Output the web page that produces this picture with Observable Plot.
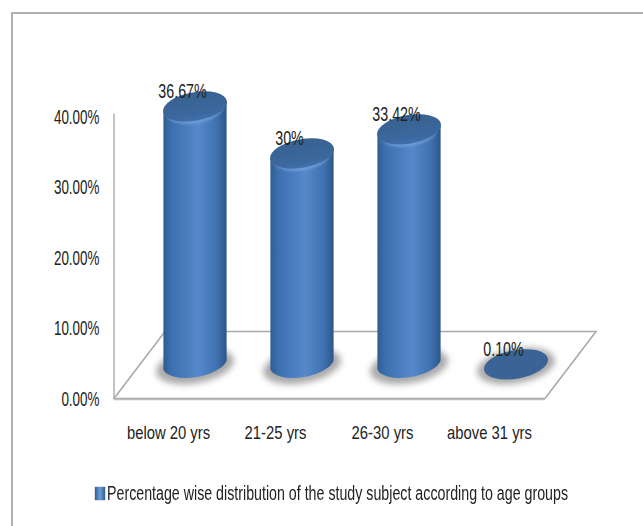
<!DOCTYPE html>
<html>
<head>
<meta charset="utf-8">
<script src="https://cdn.jsdelivr.net/npm/d3@7"></script>
<script src="https://cdn.jsdelivr.net/npm/@observablehq/plot@0.6"></script>
<style>
  html, body { margin: 0; padding: 0; background: #fff; overflow: hidden; }
  #page { position: relative; width: 643px; height: 526px; overflow: hidden; font-family: "Liberation Sans", sans-serif; }
  #edge { position: absolute; left: 11px; top: 12px; right: 0; bottom: 0; border-left: 2px solid #b0b0b0; border-top: 2px solid #b0b0b0; pointer-events: none; }
  #chart svg { display: block; }
  #legend { position: absolute; left: 0; top: 480px; width: 643px; height: 26px; font-size: 20px; line-height: 26px; color: #222; white-space: nowrap; }
  #legend .key { position: absolute; left: 95px; top: 7px; width: 10px; height: 13px; background: linear-gradient(90deg, #2f5f97, #6f9fd8 50%, #2f5f97); box-shadow: 0 0 1px #345; }
  #legend .label { position: absolute; left: 107px; top: 0; transform-origin: 0 50%; }
</style>
</head>
<body>
<div id="page">
  <div id="edge"></div>
  <div id="chart"></div>
  <div id="legend"><span class="key"></span><span class="label" id="legend-label"></span></div>
</div>
<script>
const ageGroups = ["below 20 yrs", "21-25 yrs", "26-30 yrs", "above 31 yrs"];
const shares = [36.67, 30, 33.42, 0.1];
const shareLabels = ["36.67%", "30%", "33.42%", "0.10%"];
const yTicks = [0, 10, 20, 30, 40];
const seriesName = "Percentage wise distribution of the study subject according to age groups";

const rows = ageGroups.map((group, i) => ({group, share: shares[i], label: shareLabels[i]}));

// Receding floor: the cylinders stand half way back along this depth.
const depthX = 51, depthY = 67;
const standX = depthX / 2, standY = -depthY / 2;
const capRx = 32.4, capRy = 14.3, tilt = -10, skew = 4.6;
const font = "'Liberation Sans', sans-serif";

// Shared gradients and the soft shadow filters.
function defs() {
  const svg = d3.create("svg:defs");
  const body = svg.append("linearGradient").attr("id", "cyl-body");
  [[0, "#2f5d93"], [0.12, "#3b6fae"], [0.55, "#5688cb"], [0.84, "#4072b1"], [1, "#2c5688"]]
    .forEach(([o, c]) => body.append("stop").attr("offset", o).attr("stop-color", c));
  const cap = svg.append("linearGradient").attr("id", "cyl-cap").attr("x1", 0).attr("x2", 0).attr("y1", 0).attr("y2", 1);
  [[0, "#38618f"], [0.8, "#3b689f"], [1, "#4272ad"]]
    .forEach(([o, c]) => cap.append("stop").attr("offset", o).attr("stop-color", c));
  const blur = svg.append("filter").attr("id", "soft").attr("x", "-30%").attr("y", "-60%").attr("width", "160%").attr("height", "220%");
  blur.append("feGaussianBlur").attr("stdDeviation", 3);
  const glow = svg.append("filter").attr("id", "rim").attr("x", "-10%").attr("y", "-20%").attr("width", "120%").attr("height", "140%");
  glow.append("feGaussianBlur").attr("stdDeviation", 1);
  return svg.node();
}

// The floor is a parallelogram running back from the zero line, with the axis rising from its corner.
function floor(index, {y}, values, {marginLeft, width, marginRight}) {
  const g = d3.create("svg:g");
  const left = marginLeft, right = width - marginRight, y0 = y(0);
  g.append("path")
    .attr("d", `M${left},${y0}L${left + depthX},${y0 - depthY}L${right + depthX},${y0 - depthY}L${right},${y0}Z`)
    .attr("fill", "none").attr("stroke", "#a9a9a9").attr("stroke-width", 1.6);
  g.append("path")
    .attr("d", `M${left},${y0 + 1}L${right},${y0 + 1}`)
    .attr("stroke", "#bdbdbd").attr("stroke-width", 1.5);
  g.append("path")
    .attr("d", `M${left},${y0}V${y(40) - 3}`)
    .attr("stroke", "#b4b4b4").attr("stroke-width", 1.6);
  return g.node();
}

// Turn each bar's rectangle into a tilted cylinder with its shadow and cap.
function cylinder(index, scales, values, dimensions, context, next) {
  const g = next(index, scales, values, dimensions, context);
  d3.select(g).selectAll("rect").each(function () {
    const r = d3.select(this);
    const x0 = +r.attr("x"), w = +r.attr("width"), top = +r.attr("y"), h = +r.attr("height");
    const x1 = x0 + w, cx = x0 + w / 2, bottom = top + h;
    const parent = d3.select(this.parentNode);
    const turn = (cy) => `rotate(${tilt} ${cx} ${cy})`;
    parent.insert("ellipse", () => this)
      .attr("cx", cx).attr("cy", bottom + 1).attr("rx", capRx + 7).attr("ry", capRy + 3)
      .attr("transform", turn(bottom + 1))
      .attr("fill", "#707070").attr("fill-opacity", 0.6).attr("filter", "url(#soft)");
    if (h > 4) {
      parent.insert("path", () => this)
        .attr("d", `M${x0},${top + skew}L${x1},${top - skew}L${x1},${bottom - skew}` +
                   `A${capRx},${capRy} ${tilt} 0 1 ${x0},${bottom + skew}Z`)
        .attr("fill", "url(#cyl-body)");
      parent.insert("ellipse", () => this)
        .attr("cx", cx).attr("cy", top + 2.5).attr("rx", capRx - 3).attr("ry", capRy)
        .attr("transform", turn(top + 2.5))
        .attr("fill", "#7aa6e0").attr("fill-opacity", 0.7).attr("filter", "url(#rim)");
      parent.insert("ellipse", () => this)
        .attr("cx", cx).attr("cy", top).attr("rx", capRx).attr("ry", capRy)
        .attr("transform", turn(top))
        .attr("fill", "url(#cyl-cap)");
    } else {
      parent.insert("ellipse", () => this)
        .attr("cx", cx).attr("cy", top).attr("rx", capRx).attr("ry", capRy)
        .attr("transform", turn(top))
        .attr("fill", "#3a6496");
    }
    r.remove();
  });
  return g;
}

const chart = Plot.plot({
  width: 643,
  height: 470,
  marginLeft: 114,
  marginRight: 98,
  marginTop: 116.5,
  marginBottom: 71.5,
  style: {background: "transparent", overflow: "visible"},
  x: {domain: ageGroups, padding: 0, label: null},
  y: {domain: [0, 40], label: null},
  marks: [
    defs,
    floor,
    Plot.barY(rows, {x: "group", y: "share", dx: standX, dy: standY, insetLeft: 21.9, insetRight: 21.9, fill: "#3a6aa8", render: cylinder}),
    Plot.text(rows, {x: "group", y: "share", text: "label", dx: standX - 13, dy: standY - 16,
      fontFamily: font, fontSize: 21, fill: "#222", className: "narrow-values"}),
    Plot.axisY({ticks: yTicks, tickSize: 0, tickPadding: 15, tickFormat: (d) => d.toFixed(2) + "%", label: null,
      fontFamily: font, fontSize: 21, color: "#222", className: "narrow-y"}),
    Plot.axisX({tickSize: 0, tickPadding: 26, dx: -1.5, label: null, fontFamily: font, fontSize: 19, color: "#222", className: "narrow-x"})
  ]
});

document.getElementById("chart").appendChild(chart);

// Condense the labels to their narrow proportions; text can only be measured once it is in the document.
const narrow = {".narrow-values": 0.68, ".narrow-y": 0.64, ".narrow-x": 0.78};
for (const [selector, factor] of Object.entries(narrow)) {
  d3.select(chart).selectAll(`${selector} text, text${selector}`).each(function () {
    this.setAttribute("textLength", this.getComputedTextLength() * factor);
    this.setAttribute("lengthAdjust", "spacingAndGlyphs");
  });
}

const label = document.getElementById("legend-label");
label.textContent = seriesName;
label.style.transform = `scaleX(${461 / label.getBoundingClientRect().width})`;
</script>
</body>
</html>
